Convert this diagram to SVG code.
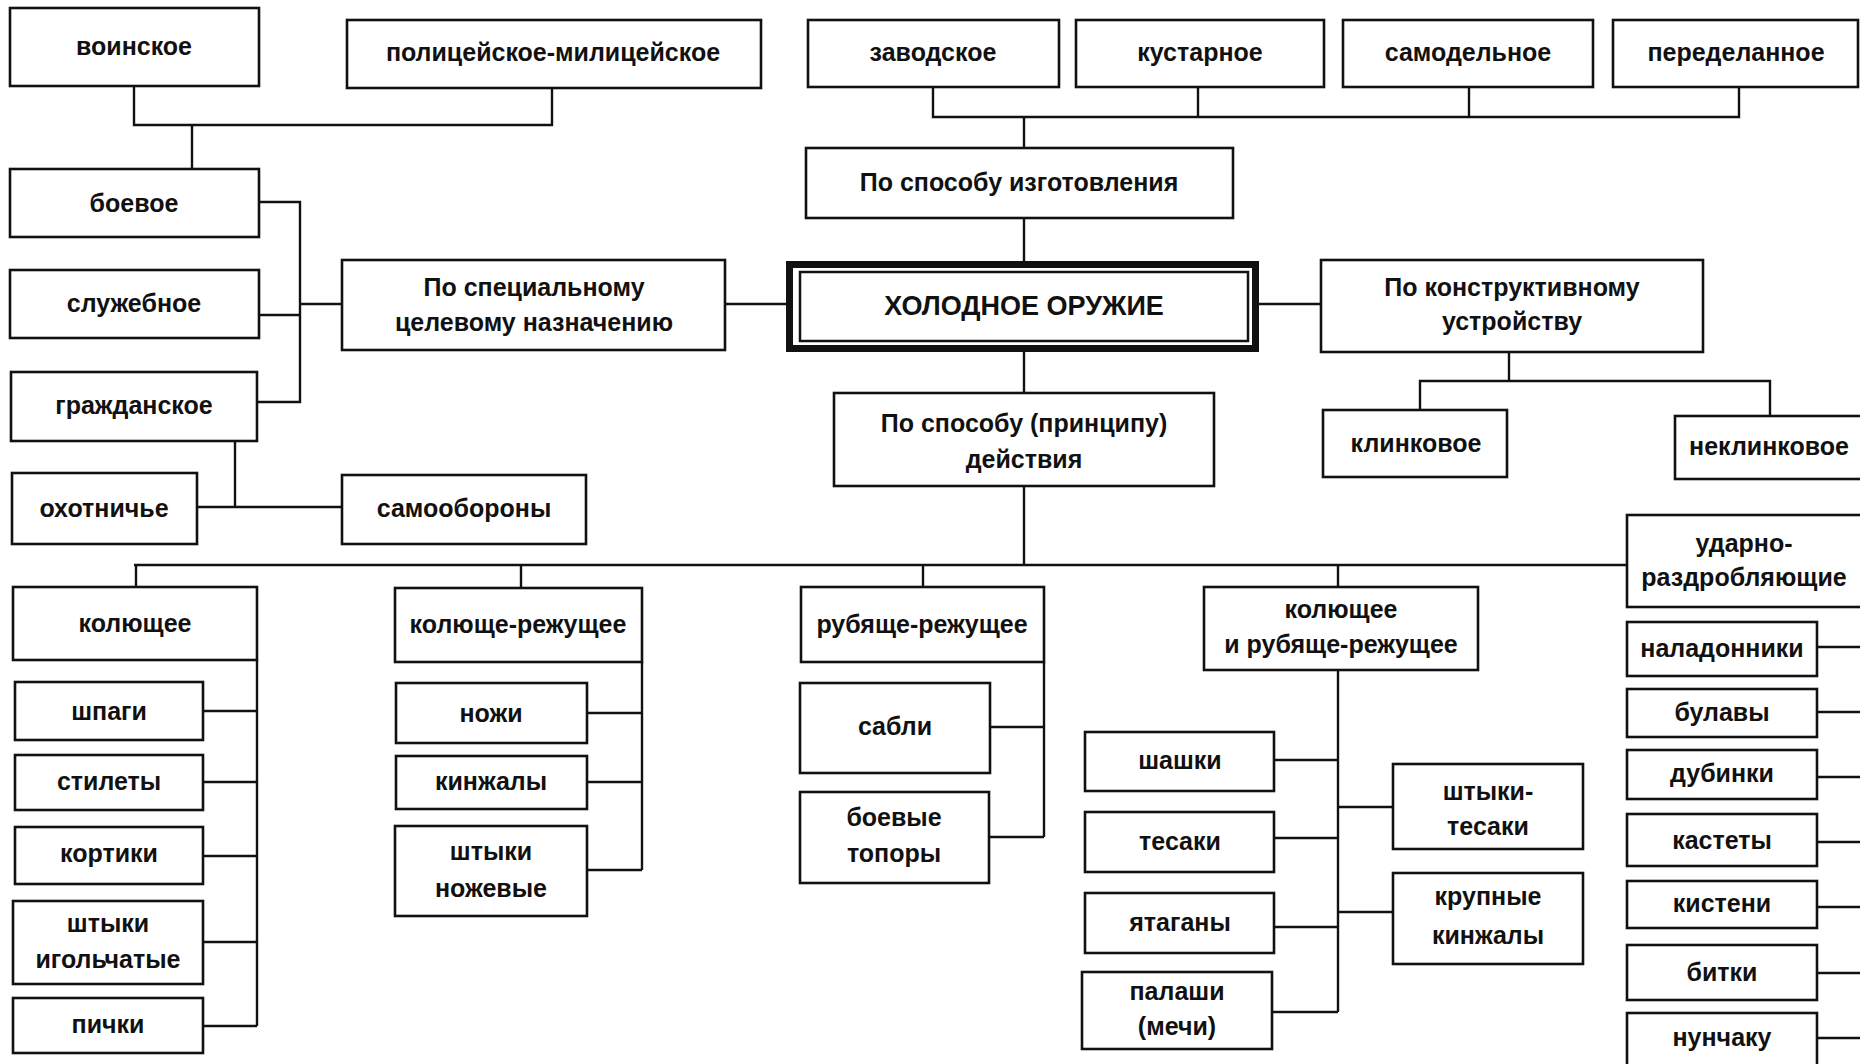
<svg xmlns="http://www.w3.org/2000/svg" width="1860" height="1064" viewBox="0 0 1860 1064">
<style>
.bx{fill:#fff;stroke:#111;stroke-width:2.6}
.t{font-family:'Liberation Sans',Arial,sans-serif;font-weight:bold;font-size:25px;text-anchor:middle;fill:#111}
.c{fill:none;stroke:#111;stroke-width:2.4}
</style>
<rect x="0" y="0" width="1860" height="1064" fill="#fff"/>
<g id="connectors" class="c">
<path d="M134,86 V125 H552 V88"/>
<path d="M192,125 V169"/>
<path d="M259,202 H300 V402 H257"/>
<path d="M259,315 H300"/>
<path d="M300,304 H342"/>
<path d="M725,304 H788"/>
<path d="M235,441 V507"/>
<path d="M197,507 H342"/>
<path d="M933,87 V117 H1739 V87"/>
<path d="M1198,87 V117"/>
<path d="M1469,87 V117"/>
<path d="M1024,117 V148"/>
<path d="M1024,218 V262"/>
<path d="M1257,304 H1321"/>
<path d="M1509,352 V381"/>
<path d="M1420,410 V381 H1770 V416"/>
<path d="M1024,350 V393"/>
<path d="M1024,486 V565"/>
<path d="M134,565 H1627"/>
<path d="M136,565 V587"/>
<path d="M521,565 V588"/>
<path d="M923,565 V587"/>
<path d="M1338,565 V587"/>
<path d="M257,660 V1026"/>
<path d="M203,711 H257 M203,782 H257 M203,856 H257 M203,942 H257 M203,1026 H257"/>
<path d="M642,662 V870"/>
<path d="M587,713 H642 M587,782 H642 M587,870 H642"/>
<path d="M1044,662 V837"/>
<path d="M990,727 H1044 M989,837 H1044"/>
<path d="M1338,670 V1012"/>
<path d="M1274,760 H1338 M1274,838 H1338 M1274,927 H1338 M1272,1012 H1338"/>
<path d="M1338,807 H1393 M1338,912 H1393"/>
<path d="M1817,647 H1860 M1817,712 H1860 M1817,777 H1860 M1817,842 H1860 M1817,907 H1860 M1817,973 H1860 M1817,1038 H1860"/>
</g>
<g id="n-voinskoe"><rect class="bx" x="10" y="8" width="249" height="78"/><text class="t" x="134" y="55">воинское</text></g>
<g id="n-policeiskoe"><rect class="bx" x="347" y="20" width="414" height="68"/><text class="t" x="553" y="61">полицейское-милицейское</text></g>
<g id="n-zavodskoe"><rect class="bx" x="808" y="20" width="251" height="67"/><text class="t" x="933" y="61">заводское</text></g>
<g id="n-kustarnoe"><rect class="bx" x="1076" y="20" width="248" height="67"/><text class="t" x="1200" y="61">кустарное</text></g>
<g id="n-samodelnoe"><rect class="bx" x="1343" y="20" width="250" height="67"/><text class="t" x="1468" y="61">самодельное</text></g>
<g id="n-peredelannoe"><rect class="bx" x="1613" y="20" width="245" height="67"/><text class="t" x="1736" y="61">переделанное</text></g>
<g id="n-izgotovlenie"><rect class="bx" x="806" y="148" width="427" height="70"/><text class="t" x="1019" y="191">По способу изготовления</text></g>
<g id="n-main"><rect x="789.5" y="264.5" width="466" height="84" fill="#fff" stroke="#111" stroke-width="7"/><rect x="800" y="272" width="448" height="69" fill="none" stroke="#111" stroke-width="2.5"/><text class="t" x="1024" y="315" style="font-size:27px">ХОЛОДНОЕ ОРУЖИЕ</text></g>
<g id="n-naznachenie"><rect class="bx" x="342" y="260" width="383" height="90"/><text class="t"><tspan x="534" y="296">По специальному</tspan><tspan x="534" y="331">целевому назначению</tspan></text></g>
<g id="n-konstrukt"><rect class="bx" x="1321" y="260" width="382" height="92"/><text class="t"><tspan x="1512" y="296">По конструктивному</tspan><tspan x="1512" y="330">устройству</tspan></text></g>
<g id="n-boevoe"><rect class="bx" x="10" y="169" width="249" height="68"/><text class="t" x="134" y="212">боевое</text></g>
<g id="n-sluzhebnoe"><rect class="bx" x="10" y="270" width="249" height="68"/><text class="t" x="134" y="312">служебное</text></g>
<g id="n-grazhdanskoe"><rect class="bx" x="11" y="372" width="246" height="69"/><text class="t" x="134" y="414">гражданское</text></g>
<g id="n-okhotniche"><rect class="bx" x="12" y="473" width="185" height="71"/><text class="t" x="104" y="517">охотничье</text></g>
<g id="n-samooborony"><rect class="bx" x="342" y="475" width="244" height="69"/><text class="t" x="464" y="517">самообороны</text></g>
<g id="n-deistvie"><rect class="bx" x="834" y="393" width="380" height="93"/><text class="t"><tspan x="1024" y="432">По способу (принципу)</tspan><tspan x="1024" y="468">действия</tspan></text></g>
<g id="n-klinkovoe"><rect class="bx" x="1323" y="410" width="184" height="67"/><text class="t" x="1416" y="452">клинковое</text></g>
<g id="n-neklinkovoe"><rect class="bx" x="1675" y="416" width="195" height="63"/><text class="t" x="1769" y="455">неклинковое</text></g>
<g id="n-kolyushchee"><rect class="bx" x="13" y="587" width="244" height="73"/><text class="t" x="135" y="632">колющее</text></g>
<g id="n-shpagi"><rect class="bx" x="15" y="682" width="188" height="58"/><text class="t" x="109" y="720">шпаги</text></g>
<g id="n-stilety"><rect class="bx" x="15" y="755" width="188" height="55"/><text class="t" x="109" y="790">стилеты</text></g>
<g id="n-kortiki"><rect class="bx" x="15" y="827" width="188" height="57"/><text class="t" x="109" y="862">кортики</text></g>
<g id="n-shtyki-igol"><rect class="bx" x="13" y="901" width="190" height="83"/><text class="t"><tspan x="108" y="932">штыки</tspan><tspan x="108" y="968">игольчатые</tspan></text></g>
<g id="n-pichki"><rect class="bx" x="13" y="998" width="190" height="55"/><text class="t" x="108" y="1033">пички</text></g>
<g id="n-kolyushche-rezh"><rect class="bx" x="395" y="588" width="247" height="74"/><text class="t" x="518" y="633">колюще-режущее</text></g>
<g id="n-nozhi"><rect class="bx" x="396" y="683" width="191" height="60"/><text class="t" x="491" y="722">ножи</text></g>
<g id="n-kinzhaly"><rect class="bx" x="396" y="756" width="191" height="53"/><text class="t" x="491" y="790">кинжалы</text></g>
<g id="n-shtyki-nozh"><rect class="bx" x="395" y="826" width="192" height="90"/><text class="t"><tspan x="491" y="860">штыки</tspan><tspan x="491" y="897">ножевые</tspan></text></g>
<g id="n-rubyashche"><rect class="bx" x="801" y="587" width="243" height="75"/><text class="t" x="922" y="633">рубяще-режущее</text></g>
<g id="n-sabli"><rect class="bx" x="800" y="683" width="190" height="90"/><text class="t" x="895" y="735">сабли</text></g>
<g id="n-topory"><rect class="bx" x="800" y="792" width="189" height="91"/><text class="t"><tspan x="894" y="826">боевые</tspan><tspan x="894" y="862">топоры</tspan></text></g>
<g id="n-kol-rub"><rect class="bx" x="1204" y="587" width="274" height="83"/><text class="t"><tspan x="1341" y="618">колющее</tspan><tspan x="1341" y="653">и рубяще-режущее</tspan></text></g>
<g id="n-shashki"><rect class="bx" x="1085" y="732" width="189" height="59"/><text class="t" x="1180" y="769">шашки</text></g>
<g id="n-tesaki"><rect class="bx" x="1085" y="812" width="189" height="60"/><text class="t" x="1180" y="850">тесаки</text></g>
<g id="n-yatagany"><rect class="bx" x="1085" y="893" width="189" height="60"/><text class="t" x="1180" y="931">ятаганы</text></g>
<g id="n-palashi"><rect class="bx" x="1082" y="972" width="190" height="77"/><text class="t"><tspan x="1177" y="1000">палаши</tspan><tspan x="1177" y="1035">(мечи)</tspan></text></g>
<g id="n-shtyki-tesaki"><rect class="bx" x="1393" y="764" width="190" height="85"/><text class="t"><tspan x="1488" y="800">штыки-</tspan><tspan x="1488" y="835">тесаки</tspan></text></g>
<g id="n-krupnye"><rect class="bx" x="1393" y="873" width="190" height="91"/><text class="t"><tspan x="1488" y="905">крупные</tspan><tspan x="1488" y="944">кинжалы</tspan></text></g>
<g id="n-udarno"><rect class="bx" x="1627" y="515" width="243" height="92"/><text class="t"><tspan x="1744" y="552">ударно-</tspan><tspan x="1744" y="586">раздробляющие</tspan></text></g>
<g id="n-naladonniki"><rect class="bx" x="1627" y="622" width="190" height="54"/><text class="t" x="1722" y="657">наладонники</text></g>
<g id="n-bulavy"><rect class="bx" x="1627" y="689" width="190" height="48"/><text class="t" x="1722" y="721">булавы</text></g>
<g id="n-dubinki"><rect class="bx" x="1627" y="750" width="190" height="49"/><text class="t" x="1722" y="782">дубинки</text></g>
<g id="n-kastety"><rect class="bx" x="1627" y="814" width="190" height="52"/><text class="t" x="1722" y="849">кастеты</text></g>
<g id="n-kisteni"><rect class="bx" x="1627" y="881" width="190" height="47"/><text class="t" x="1722" y="912">кистени</text></g>
<g id="n-bitki"><rect class="bx" x="1627" y="945" width="190" height="55"/><text class="t" x="1722" y="981">битки</text></g>
<g id="n-nunchaku"><rect class="bx" x="1627" y="1013" width="190" height="56"/><text class="t" x="1722" y="1046">нунчаку</text></g>
</svg>
